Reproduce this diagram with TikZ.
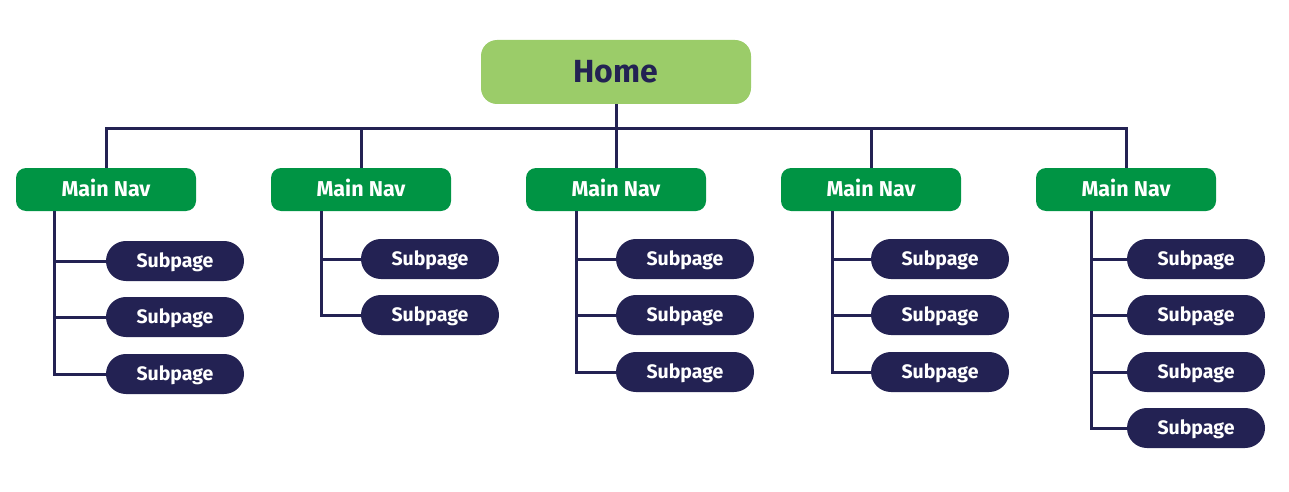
\documentclass[tikz,border=0pt]{standalone}
\usepackage{fontspec}
\setmainfont{Fira Sans}
\definecolor{navy}{HTML}{232253}
\definecolor{navgreen}{HTML}{009444}
\definecolor{homegreen}{HTML}{9BCC69}
\tikzset{
  homebox/.style={fill=homegreen, rounded corners=16pt, minimum width=270pt, minimum height=64pt, inner sep=0pt, text=navy, font=\fontsize{32}{33}\selectfont\bfseries, text height=22pt, text depth=0pt},
  navbox/.style={fill=navgreen, rounded corners=10pt, minimum width=180pt, minimum height=43pt, inner sep=0pt, text=white, font=\fontsize{21.5}{22}\selectfont\bfseries, text height=14.8pt, text depth=0pt},
  subbox/.style={fill=navy, rounded corners=19.9pt, minimum width=138pt, minimum height=40pt, inner sep=0pt, text=white, font=\fontsize{19.5}{20}\selectfont\bfseries, text height=13.5pt, text depth=0pt},
  link/.style={draw=navy, line width=3pt}
}
\begin{document}
\begin{tikzpicture}[x=1pt,y=-1pt]
\useasboundingbox (0,0) rectangle (1289,492);
\node[homebox] (home) at (616,72) {Home};
\coordinate (bus) at (616,128);
% main navs
\foreach \i/\x in {1/106,2/361,3/616,4/871,5/1126}{
  \node[navbox] (nav\i) at (\x,189.5) {Main Nav};
}
\coordinate (busL) at (106,128);
\coordinate (busR) at (1126,128);
\draw[link] (home.south) -- (bus);
\draw[link, line cap=rect] (busL) -- (busR);
\foreach \i in {1,...,5}{
  \draw[link] (nav\i.north |- bus) -- (nav\i.north);
}
% column 1
\node[subbox] (s11) at (175,261) {Subpage};
\node[subbox] (s12) at (175,317) {Subpage};
\node[subbox] (s13) at (175,374) {Subpage};
\coordinate (t1) at (54,211);
\draw[link] (t1) |- (s13.west);
\draw[link] (t1 |- s11.west) -- (s11.west);
\draw[link] (t1 |- s12.west) -- (s12.west);
% column 2
\node[subbox] (s21) at (430,259) {Subpage};
\node[subbox] (s22) at (430,315) {Subpage};
\coordinate (t2) at (321,211);
\draw[link] (t2) |- (s22.west);
\draw[link] (t2 |- s21.west) -- (s21.west);
% column 3
\node[subbox] (s31) at (685,259) {Subpage};
\node[subbox] (s32) at (685,315) {Subpage};
\node[subbox] (s33) at (685,372) {Subpage};
\coordinate (t3) at (576,211);
\draw[link] (t3) |- (s33.west);
\draw[link] (t3 |- s31.west) -- (s31.west);
\draw[link] (t3 |- s32.west) -- (s32.west);
% column 4
\node[subbox] (s41) at (940,259) {Subpage};
\node[subbox] (s42) at (940,315) {Subpage};
\node[subbox] (s43) at (940,372) {Subpage};
\coordinate (t4) at (832,211);
\draw[link] (t4) |- (s43.west);
\draw[link] (t4 |- s41.west) -- (s41.west);
\draw[link] (t4 |- s42.west) -- (s42.west);
% column 5
\node[subbox] (s51) at (1196,259) {Subpage};
\node[subbox] (s52) at (1196,315) {Subpage};
\node[subbox] (s53) at (1196,372) {Subpage};
\node[subbox] (s54) at (1196,428) {Subpage};
\coordinate (t5) at (1091,211);
\draw[link] (t5) |- (s54.west);
\draw[link] (t5 |- s51.west) -- (s51.west);
\draw[link] (t5 |- s52.west) -- (s52.west);
\draw[link] (t5 |- s53.west) -- (s53.west);
\end{tikzpicture}
\end{document}
